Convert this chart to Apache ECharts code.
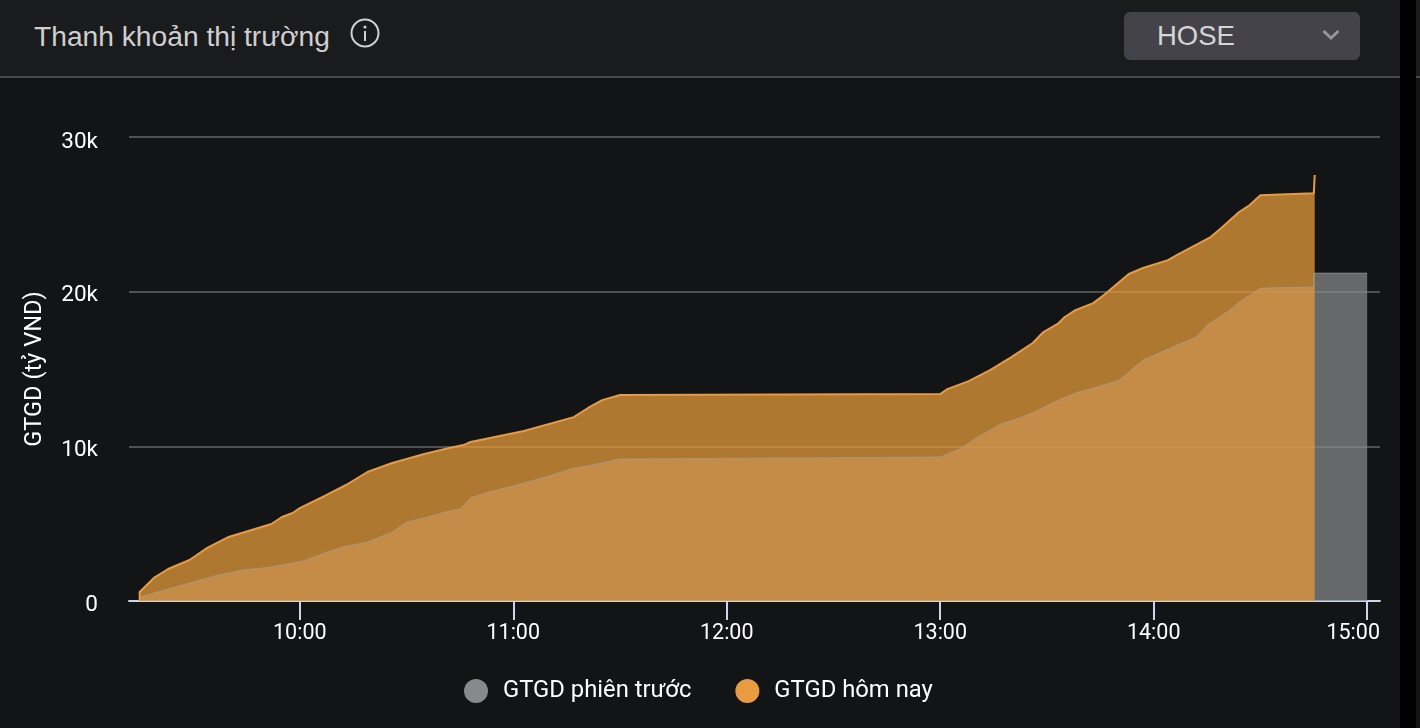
<!DOCTYPE html>
<html>
<head>
<meta charset="utf-8">
<title>Thanh khoản thị trường</title>
<script src="https://cdn.jsdelivr.net/npm/echarts@6/dist/echarts.min.js"></script>
<style>
  html, body { margin: 0; height: 100%; background: #131416; overflow: hidden; }
  #plot { position: absolute; left: 0; top: 0; width: 1420px; height: 728px; }
  #header { position: absolute; left: 0; top: 0; width: 1420px; height: 76px; background: #1a1b1d; border-bottom: 2px solid #48484c; font-family: "Liberation Sans", sans-serif; }
  #title { position: absolute; left: 34px; top: 19px; font-size: 28.2px; line-height: 34px; color: #cfcfcf; white-space: nowrap; }
  #info { position: absolute; left: 350px; top: 18px; }
  #select { position: absolute; left: 1124px; top: 12px; width: 236px; height: 48px; border-radius: 6px; background: #434349; color: #d5d5d5; font-size: 27.5px; line-height: 48px; }
  #select span { position: absolute; left: 33px; }
  #select svg { position: absolute; left: 198px; top: 17px; }
  #strip { position: absolute; left: 1400px; top: 0; width: 16px; height: 728px; background: #000; }
</style>
</head>
<body>
<div id="plot"></div>
<div id="header">
  <div id="title">Thanh khoản thị trường</div>
  <svg id="info" width="30" height="30" viewBox="0 0 30 30">
    <circle cx="15" cy="15" r="13.5" fill="none" stroke="#d0d0d0" stroke-width="2"/>
    <circle cx="15" cy="9" r="1.6" fill="#d0d0d0"/>
    <rect x="14" y="13" width="2" height="10" fill="#d0d0d0"/>
  </svg>
  <div id="select"><span>HOSE</span>
    <svg width="18" height="12" viewBox="0 0 18 12"><path d="M1.5 2 L9 9 L16.5 2" fill="none" stroke="#97979b" stroke-width="3"/></svg>
  </div>
</div>
<div id="strip"></div>
<script>
const xTicks = ["10:00", "11:00", "12:00", "13:00", "14:00", "15:00"];
const yTicks = [0, 10000, 20000, 30000];

const prevTimes = ["09:15", "09:29", "09:37", "09:44", "09:52", "10:01", "10:07", "10:12", "10:19", "10:26", "10:30", "10:35", "10:42", "10:45", "10:48", "10:53", "11:01", "11:10", "11:16", "11:22", "11:30", "13:00", "13:06", "13:10", "13:13", "13:17", "13:23", "13:27", "13:32", "13:38", "13:45", "13:50", "13:53", "13:57", "14:04", "14:12", "14:15", "14:21", "14:24", "14:30", "14:45", "14:45", "15:00"];
const prevVals = [260, 1160, 1680, 2000, 2200, 2590, 3100, 3490, 3810, 4460, 5110, 5370, 5820, 5950, 6660, 7050, 7500, 8080, 8530, 8790, 9180, 9310, 9890, 10540, 10920, 11440, 11890, 12280, 12860, 13450, 13900, 14250, 14800, 15580, 16290, 17070, 17840, 18750, 19330, 20230, 20300, 21200, 21200];

const todayTimes = ["09:15", "09:15", "09:19", "09:23", "09:29", "09:34", "09:40", "09:52", "09:55", "09:58", "10:00", "10:07", "10:13", "10:19", "10:26", "10:35", "10:42", "10:46", "10:48", "11:03", "11:17", "11:21", "11:25", "11:30", "13:00", "13:02", "13:08", "13:14", "13:20", "13:26", "13:29", "13:33", "13:35", "13:38", "13:43", "13:46", "13:50", "13:53", "13:57", "14:04", "14:07", "14:16", "14:19", "14:24", "14:27", "14:30", "14:45", "14:45:15"];
const todayVals = [0, 580, 1490, 2070, 2650, 3430, 4140, 4980, 5430, 5690, 6010, 6790, 7500, 8340, 8920, 9500, 9890, 10080, 10280, 10990, 11890, 12480, 12990, 13320, 13380, 13700, 14220, 14930, 15770, 16680, 17390, 17910, 18360, 18810, 19260, 19780, 20560, 21140, 21530, 22040, 22430, 23530, 24110, 25150, 25600, 26240, 26370, 27540];

// "HH:mm[:ss]" -> minutes since midnight
function toMin(t) {
  const p = t.split(":").map(Number);
  return p[0] * 60 + p[1] + (p[2] || 0) / 60;
}

function fmtTime(v) {
  const h = Math.floor(v / 60);
  const m = Math.round(v - h * 60);
  return `${String(h).padStart(2, "0")}:${String(m).padStart(2, "0")}`;
}

const tickMins = xTicks.map(toMin);
const font = "Roboto";

const chart = echarts.init(document.getElementById("plot"), null, { renderer: "canvas" });

chart.setOption({
  animation: false,
  backgroundColor: "transparent",
  textStyle: { fontFamily: font },
  grid: { left: 129, right: 40, top: 137, bottom: 127 },
  tooltip: { trigger: "axis" },
  legend: {
    left: 464,
    top: 679,
    padding: 0,
    icon: "circle",
    itemWidth: 24,
    itemHeight: 24,
    itemGap: 44,
    selectedMode: false,
    textStyle: { color: "#ffffff", fontSize: 23.8, fontFamily: font, padding: [6, 0, 0, 10] },
    data: ["GTGD phiên trước", "GTGD hôm nay"],
  },
  xAxis: {
    type: "value",
    min: toMin("09:12"),
    max: toMin("15:03:36"),
    splitLine: { show: false },
    axisLine: { show: true, lineStyle: { color: "#ccd6eb", width: 2 } },
    axisTick: { show: true, length: 19, customValues: tickMins, lineStyle: { color: "#ccd6eb", width: 2 } },
    axisLabel: {
      customValues: tickMins,
      color: "#ffffff",
      fontSize: 21.5,
      fontFamily: font,
      margin: 22,
      // last label is pulled back inside the plot
      formatter: (v) => (fmtTime(v) === "15:00" ? `{last|${fmtTime(v)}}` : fmtTime(v)),
      rich: { last: { color: "#ffffff", fontSize: 21.5, fontFamily: font, padding: [0, 28, 0, 0] } },
    },
  },
  yAxis: {
    type: "value",
    min: yTicks[0],
    max: yTicks[yTicks.length - 1],
    interval: yTicks[1] - yTicks[0],
    name: "GTGD (tỷ VND)",
    nameLocation: "middle",
    nameGap: 82,
    nameRotate: 90,
    nameTextStyle: { color: "#ffffff", fontSize: 23.6, fontFamily: font },
    axisLine: { show: false },
    axisTick: { show: false },
    axisLabel: {
      color: "#ffffff",
      fontSize: 22.5,
      fontFamily: font,
      margin: 31,
      padding: [8, 0, 0, 0],
      formatter: (v) => {
        if (v === 0) return "0";
        const label = `${v / 1000}k`;
        return v === yTicks[yTicks.length - 1] ? `{top|${label}}` : label;
      },
      rich: { top: { color: "#ffffff", fontSize: 22.5, fontFamily: font, padding: [2, 0, 0, 0] } },
    },
    splitLine: { lineStyle: { color: "#505052", width: 2 } },
  },
  series: [
    {
      name: "GTGD phiên trước",
      type: "line",
      showSymbol: false,
      data: prevTimes.map((t, i) => [toMin(t), prevVals[i]]),
      itemStyle: { color: "#88898d" },
      lineStyle: { color: "#a0a1a4", width: 1, opacity: 0.6 },
      areaStyle: { color: "#8a8b8e", opacity: 0.7 },
    },
    {
      name: "GTGD hôm nay",
      type: "line",
      showSymbol: false,
      data: todayTimes.map((t, i) => [toMin(t), todayVals[i]]),
      itemStyle: { color: "#e89b41" },
      lineStyle: { color: "#e89b41", width: 2 },
      areaStyle: { color: "#e4993b", opacity: 0.75 },
    },
  ],
});
</script>
</body>
</html>
